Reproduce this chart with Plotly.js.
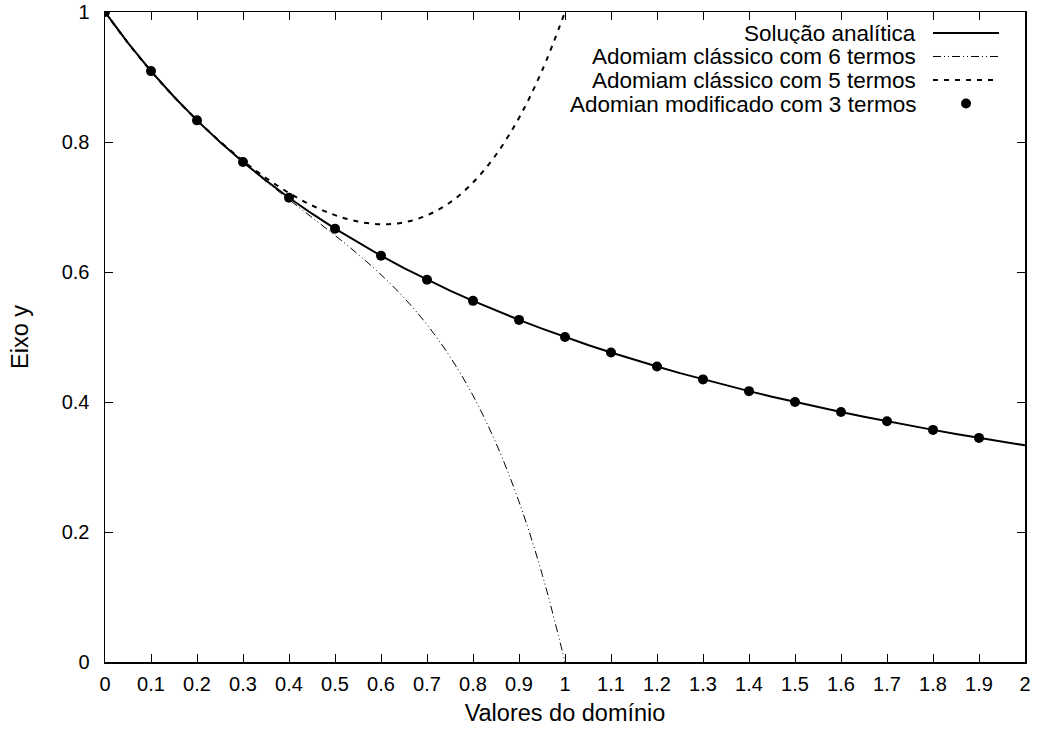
<!DOCTYPE html>
<html>
<head>
<meta charset="utf-8">
<script src="https://cdn.plot.ly/plotly-3.0.1.min.js"></script>
<style>html,body{margin:0;padding:0;background:#fff;}#chart{width:1040px;height:731px;}</style>
</head>
<body>
<div id="chart"></div>
<script>
// Solução analítica
const xAnalitica = [0,0.05,0.1,0.15,0.2,0.25,0.3,0.35,0.4,0.45,0.5,0.55,0.6,0.65,0.7,0.75,0.8,0.85,0.9,0.95,1,1.05,1.1,1.15,1.2,1.25,1.3,1.35,1.4,1.45,1.5,1.55,1.6,1.65,1.7,1.75,1.8,1.85,1.9,1.95,2];
const yAnalitica = [1,0.9524,0.9091,0.8696,0.8333,0.8,0.7692,0.7407,0.7143,0.6897,0.6667,0.6452,0.625,0.6061,0.5882,0.5714,0.5556,0.5405,0.5263,0.5128,0.5,0.4878,0.4762,0.4651,0.4545,0.4444,0.4348,0.4255,0.4167,0.4082,0.4,0.3922,0.3846,0.3774,0.3704,0.3636,0.3571,0.3509,0.3448,0.339,0.3333];
// Adomiam clássico com 6 termos
const xSeis = [0,0.05,0.1,0.15,0.2,0.25,0.3,0.35,0.4,0.45,0.5,0.55,0.6,0.65,0.7,0.75,0.8,0.85,0.9,0.95,1];
const ySeis = [1,0.9524,0.9091,0.8696,0.8333,0.7998,0.7687,0.7394,0.7114,0.6839,0.6563,0.6273,0.5958,0.5604,0.519,0.4697,0.4099,0.3367,0.2466,0.1359,0];
// Adomiam clássico com 5 termos
const xCinco = [0,0.05,0.1,0.15,0.2,0.25,0.3,0.35,0.4,0.45,0.5,0.55,0.6,0.65,0.7,0.75,0.8,0.85,0.9,0.95,1];
const yCinco = [1,0.9524,0.9091,0.8696,0.8336,0.8008,0.7711,0.7446,0.7216,0.7024,0.6875,0.6776,0.6736,0.6764,0.6871,0.707,0.7376,0.7804,0.8371,0.9096,1];
// Adomian modificado com 3 termos
const xModificado = [0,0.1,0.2,0.3,0.4,0.5,0.6,0.7,0.8,0.9,1,1.1,1.2,1.3,1.4,1.5,1.6,1.7,1.8,1.9];
const yModificado = [1,0.9091,0.8333,0.7692,0.7143,0.6667,0.625,0.5882,0.5556,0.5263,0.5,0.4762,0.4545,0.4348,0.4167,0.4,0.3846,0.3704,0.3571,0.3448];

const legendNames = ["Solução analítica","Adomiam clássico com 6 termos","Adomiam clássico com 5 termos","Adomian modificado com 3 termos"];

const FONT = "Liberation Sans, Arial, Helvetica, sans-serif";

const traces = [
  {x: xSeis, y: ySeis, mode: 'lines', line: {color: '#000', width: 1, dash: '8px,3px,1px,3px,1px,3px', shape: 'spline'}, name: legendNames[1], showlegend: false, hoverinfo: 'skip'},
  {x: xCinco, y: yCinco, mode: 'lines', line: {color: '#000', width: 2, dash: '5px,6px', shape: 'spline'}, name: legendNames[2], showlegend: false, hoverinfo: 'skip'},
  {x: xAnalitica, y: yAnalitica, mode: 'lines', line: {color: '#000', width: 2}, name: legendNames[0], showlegend: false, hoverinfo: 'skip'},
  {x: xModificado, y: yModificado, mode: 'markers', marker: {color: '#000', size: 10}, name: legendNames[3], showlegend: false, hoverinfo: 'skip'}
];

// manual gnuplot-style key (text right-aligned, sample on the right)
const rowsY = [0.96769, 0.93154, 0.89538, 0.85923];
const textX = 0.8837, sx0 = 0.900, sx1 = 0.9717;
const annotations = legendNames.map((t, i) => ({
  xref: 'paper', yref: 'paper', x: textX, y: rowsY[i], xanchor: 'right', yanchor: 'middle',
  height: 22, valign: 'middle',
  text: t, showarrow: false, font: {family: FONT, size: 22.5, color: '#000'}
}));
const shapes = [
  {type: 'line', xref: 'paper', yref: 'paper', x0: sx0, x1: sx1, y0: rowsY[0], y1: rowsY[0], line: {color: '#000', width: 2}},
  {type: 'line', xref: 'paper', yref: 'paper', x0: sx0, x1: sx1, y0: rowsY[1], y1: rowsY[1], line: {color: '#000', width: 1, dash: '8px,3px,1px,3px,1px,3px'}},
  {type: 'line', xref: 'paper', yref: 'paper', x0: sx0, x1: sx1, y0: rowsY[2], y1: rowsY[2], line: {color: '#000', width: 2, dash: '5px,6px'}},
  {type: 'circle', xref: 'paper', yref: 'paper', x0: 0.9359 - 0.00543, x1: 0.9359 + 0.00543, y0: rowsY[3] - 0.00769, y1: rowsY[3] + 0.00769, fillcolor: '#000', line: {color: '#000', width: 0}}
];

const axisCommon = {
  showgrid: false, zeroline: false, showline: true, linecolor: '#000', linewidth: 1.5, mirror: 'allticks',
  ticks: 'inside', ticklen: 8, tickwidth: 1, tickcolor: '#000',
  tickfont: {family: FONT, size: 20, color: '#000'}
};

const layout = {
  width: 1040, height: 731,
  margin: {l: 105, r: 15, t: 12, b: 69},
  paper_bgcolor: '#fff', plot_bgcolor: '#fff',
  showlegend: false,
  font: {family: FONT, color: '#000'},
  xaxis: Object.assign({}, axisCommon, {
    range: [0, 2], dtick: 0.1, tick0: 0, ticklabelstandoff: 3,
    title: {text: 'Valores do domínio', font: {family: FONT, size: 23.5, color: '#000'}, standoff: 11}
  }),
  yaxis: Object.assign({}, axisCommon, {
    range: [0, 1], dtick: 0.2, tick0: 0, ticklabelstandoff: 10,
    title: {text: 'Eixo y', font: {family: FONT, size: 23.5, color: '#000'}, standoff: 26}
  }),
  annotations: annotations,
  shapes: shapes
};

Plotly.newPlot('chart', traces, layout, {displayModeBar: false, staticPlot: true});
</script>
</body>
</html>
